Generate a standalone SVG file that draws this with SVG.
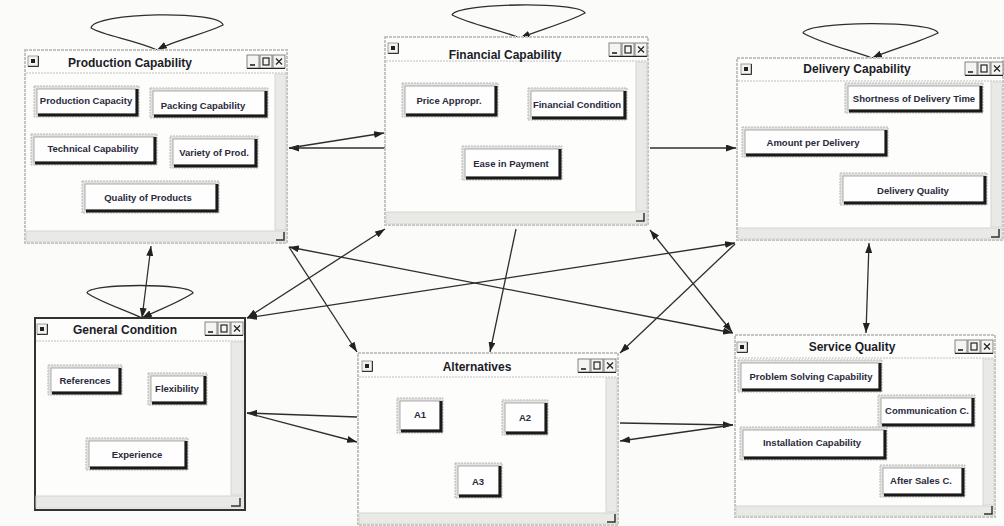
<svg xmlns="http://www.w3.org/2000/svg" width="1004" height="526" viewBox="0 0 1004 526">
<style>
.bg{fill:#fbfbf9}
.win{fill:#fdfdfc;stroke:#c4c4c2;stroke-width:2;stroke-dasharray:3 1}
.winA{fill:#fdfdfc;stroke:#333;stroke-width:2}
.tb{stroke:#d4d4d2;stroke-width:1.5;stroke-dasharray:2 1}
.sb{fill:#e9e9e6;stroke:#d6d6d3;stroke-width:1}
.ttl{font-family:"Liberation Sans",Arial,sans-serif;font-weight:bold;font-size:12px;fill:#1c1c28;text-anchor:middle}
.bt{font-family:"Liberation Sans",Arial,sans-serif;font-weight:bold;font-size:9.5px;fill:#2a2a3c;text-anchor:middle}
.bo{fill:#e2e2e0;stroke:#b8b8b6;stroke-width:1;stroke-dasharray:2 1}
.bf{fill:#fefefe;stroke:#9a9a98;stroke-width:0.8}
.bs{fill:none;stroke:#1a1a1a;stroke-width:3}
.ln{fill:none;stroke:#2e2e2e;stroke-width:1.3}
.cor{fill:none;stroke:#333;stroke-width:1.5}
</style>
<defs>
<marker id="ah" viewBox="0 0 10 7" refX="10" refY="3.5" markerWidth="10" markerHeight="7" markerUnits="userSpaceOnUse" orient="auto-start-reverse">
<path d="M0,0 L10,3.5 L0,7 z" fill="#222"/>
</marker>
<g id="ico">
<rect x="0" y="0" width="10" height="10" fill="#f2f2f0" stroke="#888" stroke-width="0.8"/>
<rect x="3" y="3" width="4" height="4" fill="#222"/>
<path d="M0,10.5 H10.5 V0" fill="none" stroke="#333" stroke-width="1"/>
</g>
<g id="ctl">
<rect x="0" y="0" width="12" height="13" fill="#f4f4f2" stroke="#666" stroke-width="0.8"/>
<rect x="13" y="0" width="12" height="13" fill="#f4f4f2" stroke="#666" stroke-width="0.8"/>
<rect x="26" y="0" width="12" height="13" fill="#f4f4f2" stroke="#666" stroke-width="0.8"/>
<path d="M3,10 H8" stroke="#222" stroke-width="1.6"/>
<rect x="16" y="3" width="6" height="7" fill="none" stroke="#222" stroke-width="1.2"/>
<path d="M29,3.5 L35,9.5 M35,3.5 L29,9.5" stroke="#222" stroke-width="1.2"/>
<path d="M0,13.5 H38" stroke="#222" stroke-width="1.2"/>
</g>
</defs>
<rect class="bg" x="0" y="0" width="1004" height="526"/>

<g id="connectors">
<path class="ln" d="M91,28 C94,12 220,10 223,25 C205,34 175,40 157,50" marker-end="url(#ah)"/>
<path class="ln" d="M157,50 C135,40 105,36 91,28"/>
<path class="ln" d="M452,15 C456,3 580,1 585,13 C568,22 540,30 520,38" marker-end="url(#ah)"/>
<path class="ln" d="M520,38 C500,30 470,24 452,15"/>
<path class="ln" d="M803,33 C806,21 934,20 938,33 C920,42 890,50 872,58" marker-end="url(#ah)"/>
<path class="ln" d="M872,58 C850,50 820,43 803,33"/>
<path class="ln" d="M87,293 C88,283 191,283 193,293 C180,302 158,310 142,318" marker-end="url(#ah)"/>
<path class="ln" d="M142,318 C125,310 100,302 87,293"/>

<path class="ln" d="M385,148 L289,148" marker-end="url(#ah)"/>
<path class="ln" d="M289,148 L384,133" marker-end="url(#ah)"/>
<path class="ln" d="M650,148 L736,148" marker-end="url(#ah)"/>
<path class="ln" d="M151,246 L142,318" marker-start="url(#ah)" marker-end="url(#ah)"/>
<path class="ln" d="M289,247 L733,333" marker-start="url(#ah)" marker-end="url(#ah)"/>
<path class="ln" d="M289,247 L357,352" marker-end="url(#ah)"/>
<path class="ln" d="M247,318 L385,229" marker-start="url(#ah)" marker-end="url(#ah)"/>
<path class="ln" d="M247,318 L735,243" marker-start="url(#ah)" marker-end="url(#ah)"/>
<path class="ln" d="M516,229 L490,352" marker-end="url(#ah)"/>
<path class="ln" d="M650,230 L732,332" marker-start="url(#ah)" marker-end="url(#ah)"/>
<path class="ln" d="M735,244 L620,353" marker-end="url(#ah)"/>
<path class="ln" d="M869,243 L866,333" marker-start="url(#ah)" marker-end="url(#ah)"/>
<path class="ln" d="M357,417 L247,413" marker-end="url(#ah)"/>
<path class="ln" d="M247,413 L357,442" marker-end="url(#ah)"/>
<path class="ln" d="M620,423 L733,425" marker-end="url(#ah)"/>
<path class="ln" d="M733,425 L620,441" marker-end="url(#ah)"/>
</g>

<g id="production">
<rect class="win" x="25" y="50" width="262" height="193"/>
<path class="tb" d="M26,73 H286"/>
<rect class="sb" x="275" y="74" width="11" height="156"/>
<rect class="sb" x="26" y="231" width="260" height="11"/>
<path class="cor" d="M276,240 H284 V232"/>
<use href="#ico" x="28" y="56"/>
<use href="#ctl" x="247" y="55"/>
<text class="ttl" x="130" y="67">Production Capability</text>
<rect class="bo" x="34" y="86" width="105" height="31"/><rect class="bf" x="37" y="89" width="99" height="25"/><path class="bs" d="M38,115 H137 V89"/>
<text class="bt" x="86" y="104">Production Capacity</text>
<rect class="bo" x="150" y="88" width="118" height="30"/><rect class="bf" x="153" y="91" width="112" height="24"/><path class="bs" d="M154,116 H266 V91"/>
<text class="bt" x="203" y="109">Packing Capability</text>
<rect class="bo" x="31" y="134" width="126" height="31"/><rect class="bf" x="34" y="137" width="120" height="25"/><path class="bs" d="M35,163 H155 V137"/>
<text class="bt" x="93" y="152">Technical Capability</text>
<rect class="bo" x="170" y="136" width="88" height="32"/><rect class="bf" x="173" y="139" width="82" height="26"/><path class="bs" d="M174,166 H256 V139"/>
<text class="bt" x="214" y="156">Variety of Prod.</text>
<rect class="bo" x="82" y="181" width="137" height="32"/><rect class="bf" x="85" y="184" width="131" height="26"/><path class="bs" d="M86,211 H217 V184"/>
<text class="bt" x="148" y="201">Quality of Products</text>
</g>

<g id="financial">
<rect class="win" x="385" y="37" width="263" height="188"/>
<path class="tb" d="M386,61 H647"/>
<rect class="sb" x="636" y="62" width="11" height="149"/>
<rect class="sb" x="386" y="212" width="261" height="12"/>
<path class="cor" d="M636,221 H644 V213"/>
<use href="#ico" x="388" y="43"/>
<use href="#ctl" x="609" y="43"/>
<text class="ttl" x="505" y="59">Financial Capability</text>
<rect class="bo" x="402" y="83" width="96" height="34"/><rect class="bf" x="405" y="86" width="90" height="28"/><path class="bs" d="M406,115 H496 V86"/>
<text class="bt" x="449" y="104">Price Appropr.</text>
<rect class="bo" x="528" y="88" width="99" height="32"/><rect class="bf" x="531" y="91" width="93" height="26"/><path class="bs" d="M532,118 H625 V91"/>
<text class="bt" x="577" y="108">Financial Condition</text>
<rect class="bo" x="462" y="146" width="100" height="34"/><rect class="bf" x="465" y="149" width="94" height="28"/><path class="bs" d="M466,178 H560 V149"/>
<text class="bt" x="511" y="167">Ease in Payment</text>
</g>

<g id="delivery">
<rect class="win" x="737" y="58" width="266" height="182"/>
<path class="tb" d="M738,81 H1002"/>
<rect class="sb" x="991" y="82" width="11" height="145"/>
<rect class="sb" x="738" y="228" width="264" height="11"/>
<path class="cor" d="M991,237 H999 V229"/>
<use href="#ico" x="741" y="64"/>
<use href="#ctl" x="965" y="62"/>
<text class="ttl" x="857" y="73">Delivery Capability</text>
<rect class="bo" x="845" y="83" width="138" height="30"/><rect class="bf" x="848" y="86" width="132" height="24"/><path class="bs" d="M849,111 H981 V86"/>
<text class="bt" x="914" y="102">Shortness of Delivery Time</text>
<rect class="bo" x="742" y="127" width="146" height="30"/><rect class="bf" x="745" y="130" width="140" height="24"/><path class="bs" d="M746,155 H886 V130"/>
<text class="bt" x="813" y="146">Amount per Delivery</text>
<rect class="bo" x="840" y="173" width="147" height="32"/><rect class="bf" x="843" y="176" width="141" height="26"/><path class="bs" d="M844,203 H985 V176"/>
<text class="bt" x="913" y="194">Delivery Quality</text>
</g>

<g id="general">
<rect class="winA" x="35" y="318" width="210" height="192"/>
<path class="tb" d="M36,341 H244"/>
<rect class="sb" x="231" y="342" width="12" height="153"/>
<rect class="sb" x="36" y="496" width="207" height="12"/>
<path class="cor" d="M231,506 H240 V498"/>
<use href="#ico" x="37" y="324"/>
<use href="#ctl" x="205" y="322"/>
<text class="ttl" x="125" y="334">General Condition</text>
<rect class="bo" x="48" y="365" width="74" height="30"/><rect class="bf" x="51" y="368" width="68" height="24"/><path class="bs" d="M52,393 H120 V368"/>
<text class="bt" x="85" y="384">References</text>
<rect class="bo" x="148" y="373" width="59" height="32"/><rect class="bf" x="151" y="376" width="53" height="26"/><path class="bs" d="M152,403 H205 V376"/>
<text class="bt" x="177" y="392">Flexibility</text>
<rect class="bo" x="86" y="438" width="102" height="32"/><rect class="bf" x="89" y="441" width="96" height="26"/><path class="bs" d="M90,468 H186 V441"/>
<text class="bt" x="137" y="458">Experience</text>
</g>

<g id="alternatives">
<rect class="win" x="358" y="353" width="260" height="172"/>
<path class="tb" d="M359,377 H617"/>
<rect class="sb" x="606" y="378" width="11" height="134"/>
<rect class="sb" x="359" y="513" width="258" height="11"/>
<path class="cor" d="M607,522 H615 V514"/>
<use href="#ico" x="362" y="361"/>
<use href="#ctl" x="578" y="359"/>
<text class="ttl" x="477" y="371">Alternatives</text>
<rect class="bo" x="397" y="398" width="46" height="35"/><rect class="bf" x="400" y="401" width="40" height="29"/><path class="bs" d="M401,431 H441 V401"/>
<text class="bt" x="420" y="418">A1</text>
<rect class="bo" x="502" y="400" width="46" height="35"/><rect class="bf" x="505" y="403" width="40" height="29"/><path class="bs" d="M506,433 H546 V403"/>
<text class="bt" x="525" y="421">A2</text>
<rect class="bo" x="455" y="463" width="47" height="35"/><rect class="bf" x="458" y="466" width="41" height="29"/><path class="bs" d="M459,496 H500 V466"/>
<text class="bt" x="478" y="485">A3</text>
</g>

<g id="service">
<rect class="win" x="735" y="335" width="260" height="182"/>
<path class="tb" d="M736,358 H994"/>
<rect class="sb" x="983" y="359" width="11" height="146"/>
<rect class="sb" x="736" y="506" width="258" height="10"/>
<path class="cor" d="M984,514 H992 V506"/>
<use href="#ico" x="737" y="342"/>
<use href="#ctl" x="955" y="340"/>
<text class="ttl" x="852" y="351">Service Quality</text>
<rect class="bo" x="738" y="360" width="144" height="32"/><rect class="bf" x="741" y="363" width="138" height="26"/><path class="bs" d="M742,390 H880 V363"/>
<text class="bt" x="811" y="380">Problem Solving Capability</text>
<rect class="bo" x="878" y="395" width="97" height="32"/><rect class="bf" x="881" y="398" width="91" height="26"/><path class="bs" d="M882,425 H973 V398"/>
<text class="bt" x="927" y="414">Communication C.</text>
<rect class="bo" x="740" y="427" width="147" height="33"/><rect class="bf" x="743" y="430" width="141" height="27"/><path class="bs" d="M744,458 H885 V430"/>
<text class="bt" x="812" y="446">Installation Capability</text>
<rect class="bo" x="880" y="465" width="85" height="32"/><rect class="bf" x="883" y="468" width="79" height="26"/><path class="bs" d="M884,495 H963 V468"/>
<text class="bt" x="921" y="484">After Sales C.</text>
</g>
</svg>
